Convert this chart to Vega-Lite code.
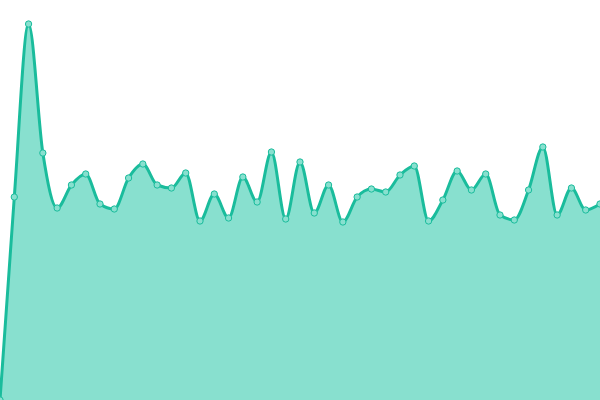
{
  "$schema": "https://vega.github.io/schema/vega-lite/v6.json",
  "width": 600,
  "height": 400,
  "padding": 0,
  "autosize": {"type": "fit", "contains": "padding"},
  "config": {"view": {"stroke": null}},
  "data": {
    "values": [
      {"i": 0, "v": 0}, {"i": 1, "v": 203}, {"i": 2, "v": 376}, {"i": 3, "v": 247},
      {"i": 4, "v": 192}, {"i": 5, "v": 215}, {"i": 6, "v": 226}, {"i": 7, "v": 196},
      {"i": 8, "v": 191}, {"i": 9, "v": 222}, {"i": 10, "v": 236}, {"i": 11, "v": 215},
      {"i": 12, "v": 212}, {"i": 13, "v": 227}, {"i": 14, "v": 179}, {"i": 15, "v": 206},
      {"i": 16, "v": 182}, {"i": 17, "v": 223}, {"i": 18, "v": 198}, {"i": 19, "v": 248},
      {"i": 20, "v": 181}, {"i": 21, "v": 238}, {"i": 22, "v": 187}, {"i": 23, "v": 215},
      {"i": 24, "v": 178}, {"i": 25, "v": 203}, {"i": 26, "v": 211}, {"i": 27, "v": 208},
      {"i": 28, "v": 225}, {"i": 29, "v": 234}, {"i": 30, "v": 179}, {"i": 31, "v": 200},
      {"i": 32, "v": 229}, {"i": 33, "v": 210}, {"i": 34, "v": 226}, {"i": 35, "v": 185},
      {"i": 36, "v": 180}, {"i": 37, "v": 210}, {"i": 38, "v": 253}, {"i": 39, "v": 185},
      {"i": 40, "v": 212}, {"i": 41, "v": 190}, {"i": 42, "v": 196}
    ]
  },
  "encoding": {
    "x": {"field": "i", "type": "quantitative", "axis": null, "scale": {"domain": [0, 42], "nice": false}},
    "y": {"field": "v", "type": "quantitative", "axis": null, "scale": {"domain": [0, 400], "nice": false}}
  },
  "layer": [
    {"mark": {"type": "area", "interpolate": "monotone", "color": "#88e0cf", "clip": true}},
    {"mark": {"type": "line", "interpolate": "monotone", "color": "#1abc9c", "strokeWidth": 3, "clip": true}},
    {"mark": {"type": "point", "filled": true, "fill": "#88e0cf", "stroke": "#1abc9c", "strokeWidth": 1, "size": 40, "opacity": 1, "clip": true}}
  ]
}
